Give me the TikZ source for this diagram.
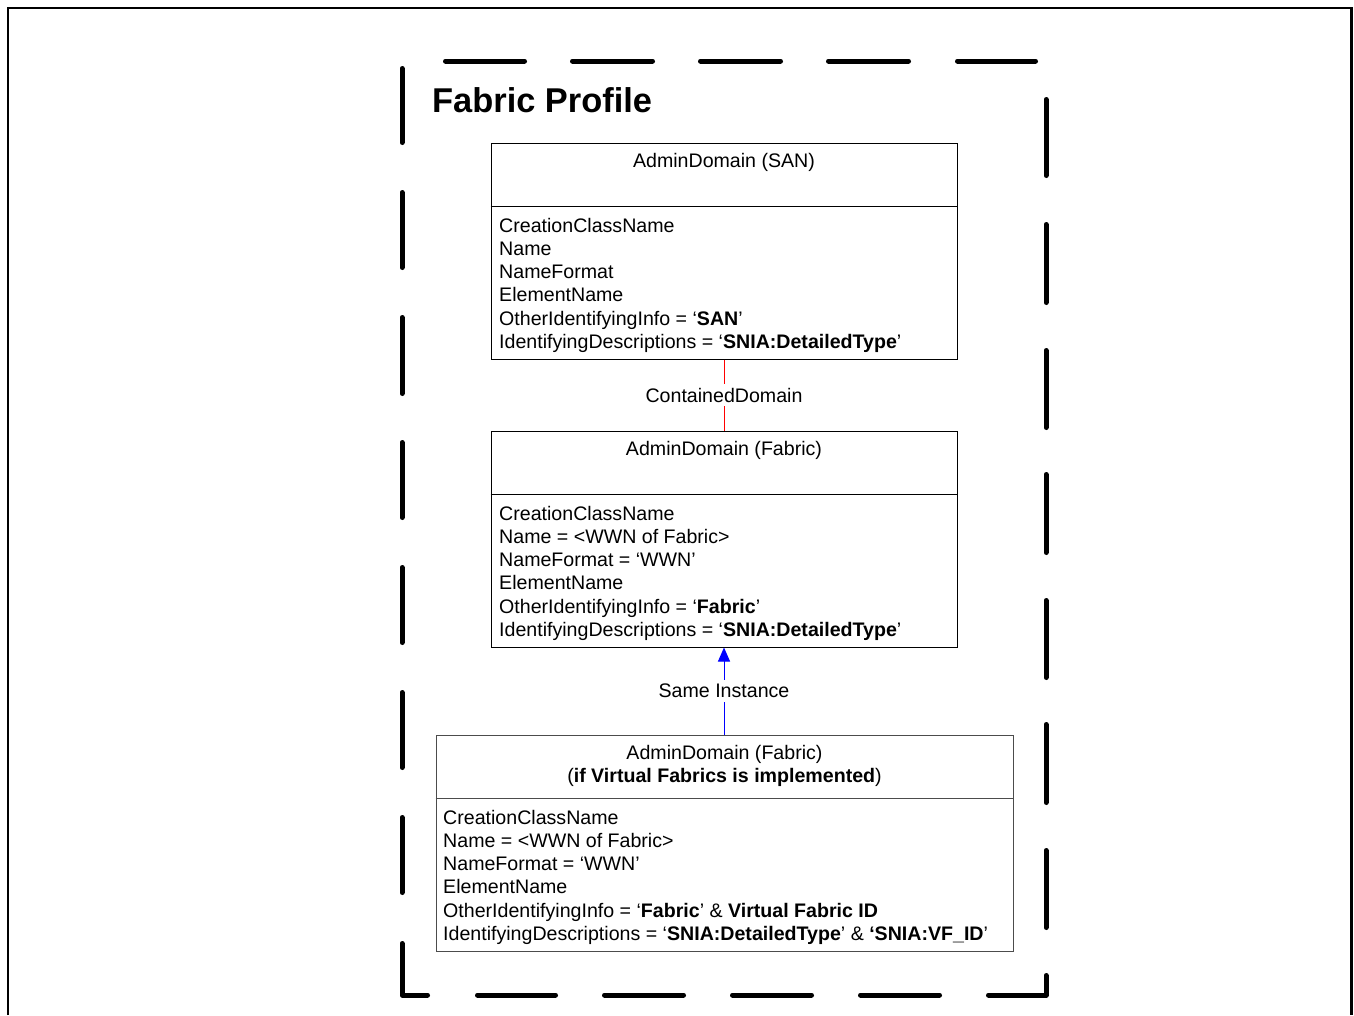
\documentclass[tikz,border=0pt]{standalone}
\usepackage{fontspec}
\setmainfont{Liberation Sans}
\usetikzlibrary{arrows.meta}
\tikzset{
  classbox/.style={draw=#1, line width=1pt, fill=none, inner sep=0pt},
  classbox/.default=black,
  attr/.style={anchor=base west, inner sep=0pt, font=\fontsize{19.6}{23.25}\selectfont},
  ttl/.style={anchor=base, inner sep=0pt, font=\fontsize{19.6}{23.25}\selectfont},
  lbl/.style={fill=white, text=black, inner xsep=2pt, inner ysep=4pt, font=\fontsize{19.6}{23.25}\selectfont},
  frame/.style={line width=5pt, line cap=round, line join=round},
}
\begin{document}
\begin{tikzpicture}[x=1pt, y=-1pt]
\useasboundingbox (0,0) rectangle (1354,1015);
% outer frame
\draw[line width=2.5pt] (7.8,1015) -- (7.8,7.8) -- (1351.3,7.8) -- (1351.3,1015);
% dashed profile frame
\foreach \a/\b in {443/527,570/655,698/783,826/911,955/1038}
  \draw[frame] ({\a+2.5},61) -- ({\b-2.5},61);
\foreach \a/\b in {97/178,222/305,348/430,472/555,598/680,722/805,848/930}
  \draw[frame] (1046,{\a+2.5}) -- (1046,{\b-2.5});
\draw[frame] (1046,975.5) -- (1046,995) -- (988.5,995);
\foreach \a/\b in {475/558,602/686,730/814,858/942}
  \draw[frame] ({\a+2.5},995) -- ({\b-2.5},995);
\draw[frame] (427.5,995) -- (402,995) -- (402,943.5);
\foreach \a/\b in {66/145,190/270,315/396,440/520,565/645,690/770,815/895}
  \draw[frame] (402,{\a+2.5}) -- (402,{\b-2.5});
% title
\node[anchor=base west, inner sep=0pt, font=\fontsize{34.4}{40}\selectfont\bfseries] (title) at (432,112) {Fabric Profile};

% box 1
\node[classbox, minimum width=466pt, minimum height=216pt] (san) at (724,251) {};
\draw[line width=1pt] ([yshift=-64pt]san.north west) -- ([yshift=-64pt]san.north east);
\node[ttl] (san-t) at (724,167) {AdminDomain (SAN)};
\foreach \txt [count=\i] in {CreationClassName, Name, NameFormat, ElementName,
  {OtherIdentifyingInfo = ‘\textbf{SAN}’},
  {IdentifyingDescriptions = ‘\textbf{SNIA:DetailedType}’}}
  \node[attr] (san-a\i) at (499,{232+23.25*(\i-1)}) {\txt};

% box 2
\node[classbox, minimum width=466pt, minimum height=216pt] (fab) at (724,539) {};
\draw[line width=1pt] ([yshift=-64pt]fab.north west) -- ([yshift=-64pt]fab.north east);
\node[ttl] (fab-t) at (724,455) {AdminDomain (Fabric)};
\foreach \txt [count=\i] in {CreationClassName, {Name = <WWN of Fabric>}, {NameFormat = ‘WWN’}, ElementName,
  {OtherIdentifyingInfo = ‘\textbf{Fabric}’},
  {IdentifyingDescriptions = ‘\textbf{SNIA:DetailedType}’}}
  \node[attr] (fab-a\i) at (499,{520+23.25*(\i-1)}) {\txt};

% box 3
\node[classbox=black!70, minimum width=577pt, minimum height=216pt] (vf) at (724.5,843) {};
\draw[line width=1pt, black!70] ([yshift=-64pt]vf.north west) -- ([yshift=-64pt]vf.north east);
\node[ttl] (vf-t1) at (724.5,759) {AdminDomain (Fabric)};
\node[ttl] (vf-t2) at (724.5,782) {(\textbf{if Virtual Fabrics is implemented})};
\foreach \txt [count=\i] in {CreationClassName, {Name = <WWN of Fabric>}, {NameFormat = ‘WWN’}, ElementName,
  {OtherIdentifyingInfo = ‘\textbf{Fabric}’ \& \textbf{Virtual Fabric ID}},
  {IdentifyingDescriptions = ‘\textbf{SNIA:DetailedType}’ \& \textbf{‘SNIA:VF\_ID}’}}
  \node[attr] (vf-a\i) at (443,{824+23.25*(\i-1)}) {\txt};

% connectors
\draw[red, line width=1pt] (san.south) -- node[lbl] (cd) {ContainedDomain} (fab.south |- fab.north);
\draw[blue, line width=1pt, -{Triangle[length=14pt, width=12pt]}] (vf.north -| fab.south) -- node[lbl] (si) {Same Instance} (fab.south);
\end{tikzpicture}
\end{document}
